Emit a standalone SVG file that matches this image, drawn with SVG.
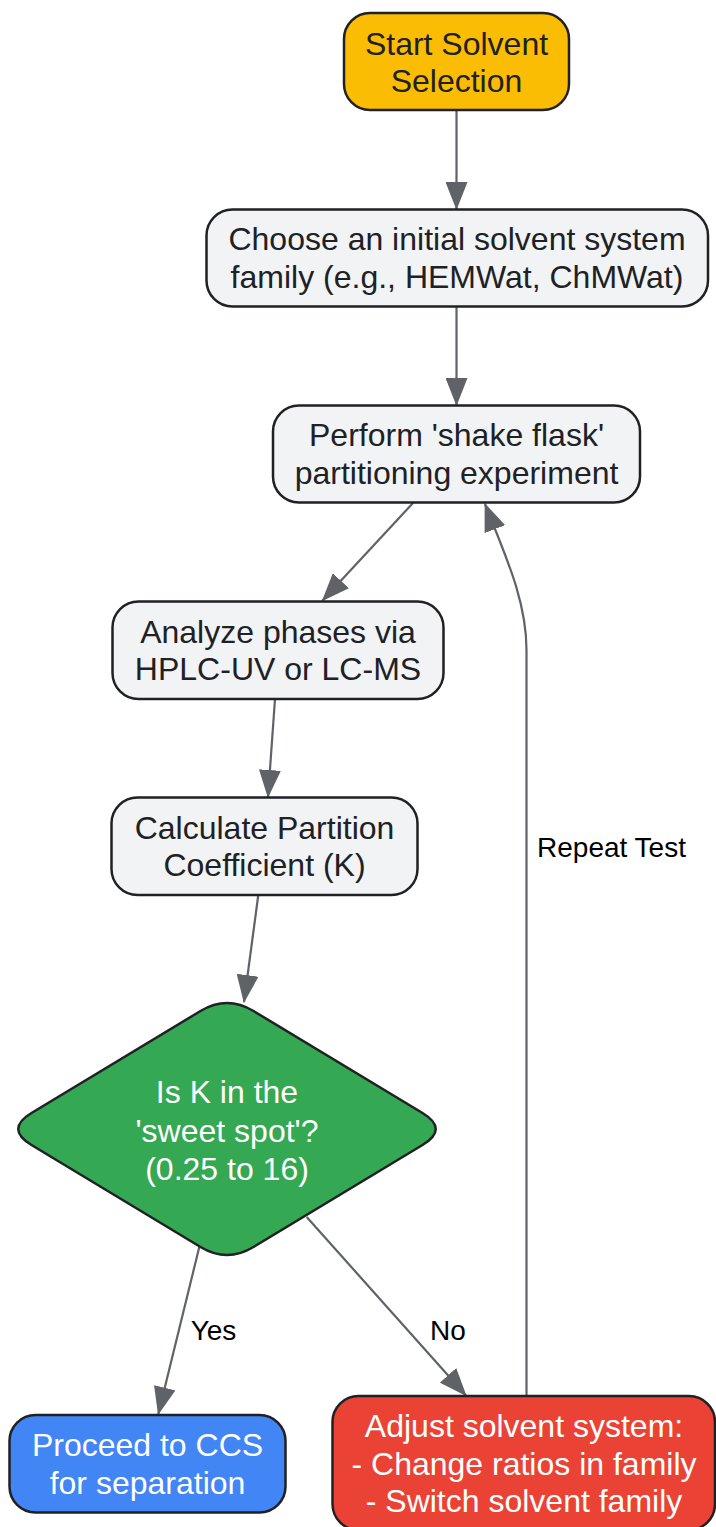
<svg xmlns="http://www.w3.org/2000/svg" width="716" height="1527" viewBox="0 0 716 1527">
<style>
.node{stroke:#202124;stroke-width:2.5}
.gray{fill:#F1F3F4}
.t{font-family:"Liberation Sans",Arial,sans-serif;font-size:32px;text-anchor:middle;fill:#202124}
.w{fill:#FFFFFF}
.edge{fill:none;stroke:#5F6368;stroke-width:2.2}
.lbl{font-family:"Liberation Sans",Arial,sans-serif;font-size:28px;text-anchor:middle;fill:#000000}
</style>
<defs>
<marker id="arrow" viewBox="0 0 28 22" refX="27" refY="11" markerWidth="28" markerHeight="22" markerUnits="userSpaceOnUse" orient="auto">
<path d="M0,0 L28,11 L0,22 z" fill="#5F6368"/>
</marker>
</defs>
<rect width="716" height="1527" fill="#FFFFFF"/>
<g id="edges">
<line class="edge" x1="456.5" y1="110" x2="456.5" y2="209" marker-end="url(#arrow)"/>
<line class="edge" x1="456.5" y1="306" x2="456.5" y2="405" marker-end="url(#arrow)"/>
<line class="edge" x1="413" y1="503" x2="322.5" y2="600.5" marker-end="url(#arrow)"/>
<line class="edge" x1="275" y1="699" x2="268" y2="797" marker-end="url(#arrow)"/>
<line class="edge" x1="258.3" y1="895" x2="244" y2="1002" marker-end="url(#arrow)"/>
<line class="edge" x1="199.3" y1="1247" x2="158.3" y2="1414" marker-end="url(#arrow)"/>
<line class="edge" x1="306.7" y1="1217" x2="466" y2="1395.5" marker-end="url(#arrow)"/>
<path class="edge" d="M526.5,1396 L526.5,650 C526.5,600 505,555 485,504" marker-end="url(#arrow)"/>
<text class="lbl" x="213.5" y="1340">Yes</text>
<text class="lbl" x="448" y="1340">No</text>
<text class="lbl" x="611.5" y="857">Repeat Test</text>
</g>
<g id="start">
<rect class="node" x="344" y="13" width="225" height="97" rx="26" fill="#FBBC04"/>
<text class="t" x="456.5" y="55">Start Solvent</text>
<text class="t" x="456.5" y="92">Selection</text>
</g>
<g id="choose">
<rect class="node gray" x="206.5" y="209.5" width="501.5" height="97" rx="26"/>
<text class="t" x="457" y="250">Choose an initial solvent system</text>
<text class="t" x="457" y="287.5">family (e.g., HEMWat, ChMWat)</text>
</g>
<g id="perform">
<rect class="node gray" x="273" y="405.5" width="367" height="97" rx="26"/>
<text class="t" x="456.5" y="446">Perform 'shake flask'</text>
<text class="t" x="456.5" y="483.5">partitioning experiment</text>
</g>
<g id="analyze">
<rect class="node gray" x="112.5" y="601.5" width="331" height="97.5" rx="26"/>
<text class="t" x="278" y="643">Analyze phases via</text>
<text class="t" x="278" y="680">HPLC-UV or LC-MS</text>
</g>
<g id="calculate">
<rect class="node gray" x="111.5" y="797.5" width="306" height="97.5" rx="26"/>
<text class="t" x="264.5" y="838.5">Calculate Partition</text>
<text class="t" x="264.5" y="876">Coefficient (K)</text>
</g>
<g id="decision">
<path class="node" fill="#34A853" d="M253.5,1011 L422.5,1113 Q449,1129 422.5,1145 L253.5,1247 Q227,1263 200.5,1247 L31.5,1145 Q5,1129 31.5,1113 L200.5,1011 Q227,995 253.5,1011 Z"/>
<text class="t w" x="227" y="1103">Is K in the</text>
<text class="t w" x="227" y="1141.5">'sweet spot'?</text>
<text class="t w" x="227" y="1180">(0.25 to 16)</text>
</g>
<g id="proceed">
<rect class="node" x="9.5" y="1415" width="276" height="97.5" rx="26" fill="#4285F4"/>
<text class="t w" x="147.5" y="1456">Proceed to CCS</text>
<text class="t w" x="147.5" y="1493.5">for separation</text>
</g>
<g id="adjust">
<rect class="node" x="332.5" y="1396" width="382.5" height="134" rx="26" fill="#EA4335"/>
<text class="t w" x="524" y="1437">Adjust solvent system:</text>
<text class="t w" x="524" y="1474.5">- Change ratios in family</text>
<text class="t w" x="524" y="1512">- Switch solvent family</text>
</g>
</svg>
